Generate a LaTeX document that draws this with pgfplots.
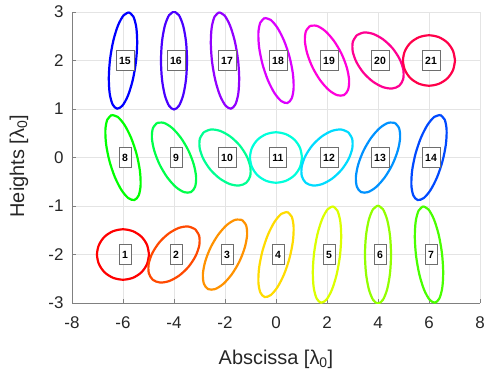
\documentclass[border=0pt]{standalone}
\usepackage{pgfplots}
\pgfplotsset{compat=1.18}
\usepackage{pgfplotstable}
\usepackage{fontspec}
\setmainfont{Liberation Sans}
\definecolor{c1}{hsb}{0,1,1}
\definecolor{c2}{hsb}{0.0476,1,1}
\definecolor{c3}{hsb}{0.0952,1,1}
\definecolor{c4}{hsb}{0.1429,1,1}
\definecolor{c5}{hsb}{0.1905,1,1}
\definecolor{c6}{hsb}{0.2381,1,1}
\definecolor{c7}{hsb}{0.2857,1,1}
\definecolor{c8}{hsb}{0.3333,1,1}
\definecolor{c9}{hsb}{0.3810,1,1}
\definecolor{c10}{hsb}{0.4286,1,1}
\definecolor{c11}{hsb}{0.4762,1,1}
\definecolor{c12}{hsb}{0.5238,1,1}
\definecolor{c13}{hsb}{0.5714,1,1}
\definecolor{c14}{hsb}{0.6190,1,1}
\definecolor{c15}{hsb}{0.6667,1,1}
\definecolor{c16}{hsb}{0.7143,1,1}
\definecolor{c17}{hsb}{0.7619,1,1}
\definecolor{c18}{hsb}{0.8095,1,1}
\definecolor{c19}{hsb}{0.8571,1,1}
\definecolor{c20}{hsb}{0.9048,1,1}
\definecolor{c21}{hsb}{0.9524,1,1}
\definecolor{gridc}{RGB}{228,228,228}
\definecolor{axisc}{RGB}{128,128,128}
\definecolor{textc}{RGB}{38,38,38}
\definecolor{boxc}{RGB}{110,110,110}

\pgfplotstableread{
x y lab
-6 -2 1
-4 -2 2
-2 -2 3
0 -2 4
2 -2 5
4 -2 6
6 -2 7
-6 0 8
-4 0 9
-2 0 10
0 0 11
2 0 12
4 0 13
6 0 14
-6 2 15
-4 2 16
-2 2 17
0 2 18
2 2 19
4 2 20
6 2 21
}\labels

\begin{document}
\begin{tikzpicture}
\begin{axis}[
  scale only axis, width=408bp, height=291bp,
  xmin=-8, xmax=8, ymin=-3, ymax=3,
  xtick={-8,-6,...,8}, ytick={-3,-2,...,3},
  axis x line*=bottom, axis y line*=left,
  axis line style={axisc, line width=0.6bp},
  tick style={axisc, line width=0.6bp}, tick align=inside, major tick length=4bp,
  grid=major, major grid style={gridc, line width=0.5bp},
  /pgf/number format/assume math mode=true,
  ticklabel style={font=\fontsize{17}{20}\selectfont, text=textc},
  xticklabel style={yshift=-10bp},
  yticklabel style={xshift=-5bp},
  label style={font=\fontsize{20}{24}\selectfont, text=textc},
  xlabel={Abscissa [λ\textsubscript{0}]},
  ylabel={Heights [λ\textsubscript{0}]},
  xlabel style={at={(axis description cs:0.5,-0.2096)}, anchor=base},
  ylabel style={at={(axis description cs:-0.130,0.47)}, anchor=center},
  every axis plot/.append style={line width=2.2bp, smooth},
]
% row y = -2
\addplot[c1] coordinates {(-4.98,-2) (-5.058,-1.801) (-5.279,-1.632) (-5.61,-1.52) (-6,-1.48) (-6.39,-1.52) (-6.721,-1.632) (-6.942,-1.801) (-7.02,-2) (-6.942,-2.199) (-6.721,-2.368) (-6.39,-2.48) (-6,-2.52) (-5.61,-2.48) (-5.279,-2.368) (-5.058,-2.199) (-4.98,-2)};
\addplot[c2] coordinates {(-3.168,-1.479) (-3.450,-1.422) (-3.815,-1.453) (-4.209,-1.568) (-4.571,-1.748) (-4.845,-1.967) (-4.992,-2.190) (-4.987,-2.385) (-4.832,-2.521) (-4.550,-2.578) (-4.185,-2.547) (-3.791,-2.432) (-3.429,-2.252) (-3.155,-2.033) (-3.008,-1.810) (-3.013,-1.615) (-3.168,-1.479)};
\addplot[c3] coordinates {(-1.338,-1.287) (-1.604,-1.286) (-1.931,-1.393) (-2.268,-1.593) (-2.564,-1.855) (-2.774,-2.140) (-2.867,-2.402) (-2.827,-2.604) (-2.662,-2.713) (-2.396,-2.714) (-2.069,-2.607) (-1.732,-2.407) (-1.436,-2.145) (-1.226,-1.860) (-1.133,-1.598) (-1.173,-1.396) (-1.338,-1.287)};
\addplot[c4] coordinates {(0.447,-1.124) (0.210,-1.162) (-0.059,-1.328) (-0.319,-1.596) (-0.530,-1.925) (-0.661,-2.267) (-0.691,-2.567) (-0.616,-2.781) (-0.447,-2.876) (-0.210,-2.838) (0.059,-2.672) (0.319,-2.404) (0.530,-2.075) (0.661,-1.733) (0.691,-1.433) (0.616,-1.219) (0.447,-1.124)};
\addplot[c5] coordinates {(2.232,-1.007) (2.021,-1.070) (1.806,-1.275) (1.621,-1.590) (1.494,-1.967) (1.444,-2.350) (1.478,-2.679) (1.592,-2.905) (1.768,-2.993) (1.979,-2.930) (2.194,-2.725) (2.379,-2.410) (2.506,-2.033) (2.556,-1.650) (2.522,-1.321) (2.408,-1.095) (2.232,-1.007)};
\addplot[c6] coordinates {(4,-0.990) (3.805,-1.067) (3.639,-1.286) (3.529,-1.613) (3.490,-2) (3.529,-2.387) (3.639,-2.714) (3.805,-2.933) (4,-3.010) (4.195,-2.933) (4.361,-2.714) (4.471,-2.387) (4.510,-2) (4.471,-1.613) (4.361,-1.286) (4.195,-1.067) (4,-0.990)};
\addplot[c7] coordinates {(5.768,-1.007) (5.979,-1.070) (6.194,-1.275) (6.379,-1.590) (6.506,-1.967) (6.556,-2.350) (6.522,-2.679) (6.408,-2.905) (6.232,-2.993) (6.021,-2.930) (5.806,-2.725) (5.621,-2.410) (5.494,-2.033) (5.444,-1.650) (5.478,-1.321) (5.592,-1.095) (5.768,-1.007)};
% row y = 0
\addplot[c8] coordinates {(-6.447,0.876) (-6.210,0.838) (-5.941,0.672) (-5.681,0.404) (-5.470,0.075) (-5.339,-0.267) (-5.309,-0.567) (-5.384,-0.781) (-5.553,-0.876) (-5.790,-0.838) (-6.059,-0.672) (-6.319,-0.404) (-6.530,-0.075) (-6.661,0.267) (-6.691,0.567) (-6.616,0.781) (-6.447,0.876)};
\addplot[c9] coordinates {(-4.662,0.713) (-4.396,0.714) (-4.069,0.607) (-3.732,0.407) (-3.436,0.145) (-3.226,-0.140) (-3.133,-0.402) (-3.173,-0.604) (-3.338,-0.713) (-3.604,-0.714) (-3.931,-0.607) (-4.268,-0.407) (-4.564,-0.145) (-4.774,0.140) (-4.867,0.402) (-4.827,0.604) (-4.662,0.713)};
\addplot[c10] coordinates {(-2.832,0.521) (-2.550,0.578) (-2.185,0.547) (-1.791,0.432) (-1.429,0.252) (-1.155,0.033) (-1.008,-0.190) (-1.013,-0.385) (-1.168,-0.521) (-1.450,-0.578) (-1.815,-0.547) (-2.209,-0.432) (-2.571,-0.252) (-2.845,-0.033) (-2.992,0.190) (-2.987,0.385) (-2.832,0.521)};
\addplot[c11] coordinates {(1.02,0) (0.942,0.199) (0.721,0.368) (0.390,0.480) (0,0.52) (-0.390,0.480) (-0.721,0.368) (-0.942,0.199) (-1.02,0) (-0.942,-0.199) (-0.721,-0.368) (-0.390,-0.480) (0,-0.52) (0.390,-0.480) (0.721,-0.368) (0.942,-0.199) (1.02,0)};
\addplot[c12] coordinates {(2.832,0.521) (2.550,0.578) (2.185,0.547) (1.791,0.432) (1.429,0.252) (1.155,0.033) (1.008,-0.190) (1.013,-0.385) (1.168,-0.521) (1.450,-0.578) (1.815,-0.547) (2.209,-0.432) (2.571,-0.252) (2.845,-0.033) (2.992,0.190) (2.987,0.385) (2.832,0.521)};
\addplot[c13] coordinates {(4.662,0.713) (4.396,0.714) (4.069,0.607) (3.732,0.407) (3.436,0.145) (3.226,-0.140) (3.133,-0.402) (3.173,-0.604) (3.338,-0.713) (3.604,-0.714) (3.931,-0.607) (4.268,-0.407) (4.564,-0.145) (4.774,0.140) (4.867,0.402) (4.827,0.604) (4.662,0.713)};
\addplot[c14] coordinates {(6.447,0.876) (6.210,0.838) (5.941,0.672) (5.681,0.404) (5.470,0.075) (5.339,-0.267) (5.309,-0.567) (5.384,-0.781) (5.553,-0.876) (5.790,-0.838) (6.059,-0.672) (6.319,-0.404) (6.530,-0.075) (6.661,0.267) (6.691,0.567) (6.616,0.781) (6.447,0.876)};
% row y = 2
\addplot[c15] coordinates {(-5.768,2.993) (-5.979,2.930) (-6.194,2.725) (-6.379,2.410) (-6.506,2.033) (-6.556,1.650) (-6.522,1.321) (-6.408,1.095) (-6.232,1.007) (-6.021,1.070) (-5.806,1.275) (-5.621,1.590) (-5.494,1.967) (-5.444,2.350) (-5.478,2.679) (-5.592,2.905) (-5.768,2.993)};
\addplot[c16] coordinates {(-4,3.010) (-4.195,2.933) (-4.361,2.714) (-4.471,2.387) (-4.510,2) (-4.471,1.613) (-4.361,1.286) (-4.195,1.067) (-4,0.990) (-3.805,1.067) (-3.639,1.286) (-3.529,1.613) (-3.490,2) (-3.529,2.387) (-3.639,2.714) (-3.805,2.933) (-4,3.010)};
\addplot[c17] coordinates {(-2.232,2.993) (-2.021,2.930) (-1.806,2.725) (-1.621,2.410) (-1.494,2.033) (-1.444,1.650) (-1.478,1.321) (-1.592,1.095) (-1.768,1.007) (-1.979,1.070) (-2.194,1.275) (-2.379,1.590) (-2.506,1.967) (-2.556,2.350) (-2.522,2.679) (-2.408,2.905) (-2.232,2.993)};
\addplot[c18] coordinates {(-0.447,2.876) (-0.210,2.838) (0.059,2.672) (0.319,2.404) (0.530,2.075) (0.661,1.733) (0.691,1.433) (0.616,1.219) (0.447,1.124) (0.210,1.162) (-0.059,1.328) (-0.319,1.596) (-0.530,1.925) (-0.661,2.267) (-0.691,2.567) (-0.616,2.781) (-0.447,2.876)};
\addplot[c19] coordinates {(1.338,2.713) (1.604,2.714) (1.931,2.607) (2.268,2.407) (2.564,2.145) (2.774,1.860) (2.867,1.598) (2.827,1.396) (2.662,1.287) (2.396,1.286) (2.069,1.393) (1.732,1.593) (1.436,1.855) (1.226,2.140) (1.133,2.402) (1.173,2.604) (1.338,2.713)};
\addplot[c20] coordinates {(3.168,2.521) (3.450,2.578) (3.815,2.547) (4.209,2.432) (4.571,2.252) (4.845,2.033) (4.992,1.810) (4.987,1.615) (4.832,1.479) (4.550,1.422) (4.185,1.453) (3.791,1.568) (3.429,1.748) (3.155,1.967) (3.008,2.190) (3.013,2.385) (3.168,2.521)};
\addplot[c21] coordinates {(7.02,2) (6.942,2.199) (6.721,2.368) (6.390,2.480) (6,2.52) (5.610,2.480) (5.279,2.368) (5.058,2.199) (4.98,2) (5.058,1.801) (5.279,1.632) (5.610,1.520) (6,1.48) (6.390,1.520) (6.721,1.632) (6.942,1.801) (7.02,2)};
% labels
\addplot[only marks, mark=none, draw=none, nodes near coords, point meta=explicit symbolic,
  nodes near coords align=center,
  every node near coord/.append style={draw=boxc, fill=white, line width=0.6bp, text=black,
    font=\fontsize{10.5}{12}\selectfont\bfseries, inner xsep=3bp, inner ysep=0pt,
    minimum height=20bp, xshift=2bp}]
  table[x=x, y=y, meta=lab] {\labels};
\end{axis}
\pgfresetboundingbox
\path[use as bounding box] ([shift={(-72bp,-72bp)}]current axis.south west) rectangle ([shift={(4bp,12bp)}]current axis.north east);
\end{tikzpicture}
\end{document}
